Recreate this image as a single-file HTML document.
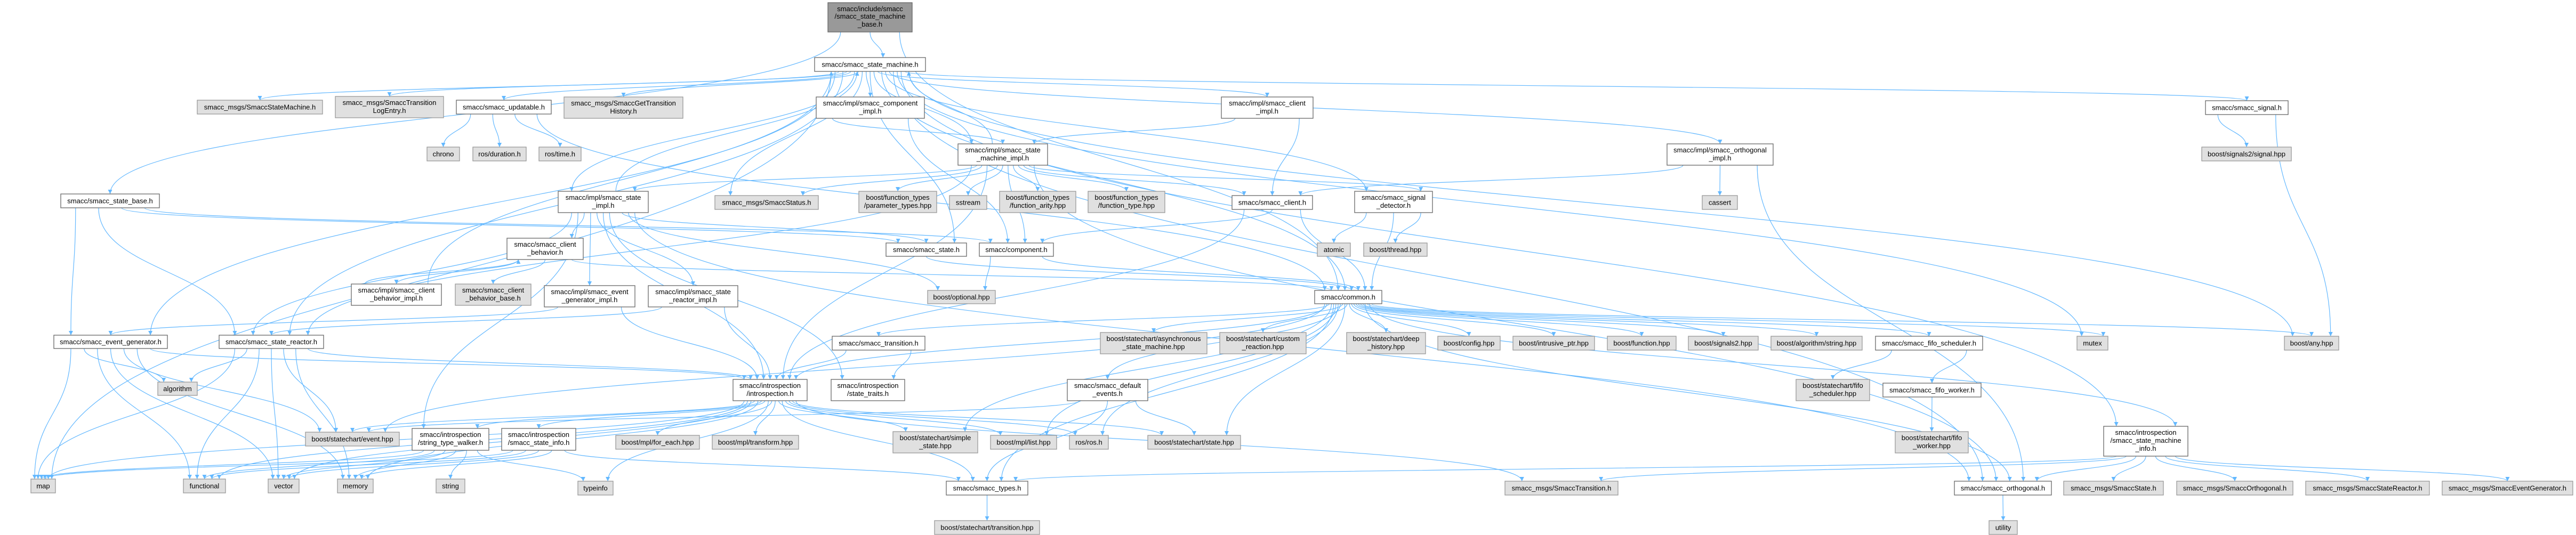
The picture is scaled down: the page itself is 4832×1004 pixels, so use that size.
<!DOCTYPE html>
<html><head><meta charset="utf-8">
<style>
html,body{margin:0;padding:0;background:#fff;}
svg{display:block;}
text{font-family:"Liberation Sans",Arial,sans-serif;font-size:13px;fill:#000;text-anchor:middle;}
.w rect{fill:#fff;stroke:#666;stroke-width:1.3;}
.g rect{fill:#e0e0e0;stroke:#999;stroke-width:1.3;}
.r rect{fill:#999;stroke:#666;stroke-width:1.3;}
.e{fill:none;stroke:#63b8ff;stroke-width:1.2;}
</style></head><body>
<svg id="s" width="4832" height="1004" viewBox="0 0 4832 1004" xmlns="http://www.w3.org/2000/svg">
<defs><marker id="ah" viewBox="0 0 10 10" refX="10" refY="5" markerWidth="10" markerHeight="8" markerUnits="userSpaceOnUse" orient="auto"><path d="M0,0 L10,5 L0,10 z" fill="#63b8ff"/></marker></defs>
<g id="edges"></g>
<g id="nodes">
<g id="base" class="r"><rect x="1553" y="5" width="158" height="55"/><text x="1632" y="21">smacc/include/smacc</text><text x="1632" y="35">/smacc_state_machine</text><text x="1632" y="50">_base.h</text></g>
<g id="sm" class="w"><rect x="1528" y="108" width="208" height="26"/><text x="1632" y="125.5">smacc/smacc_state_machine.h</text></g>
<g id="SSM" class="g"><rect x="370" y="188" width="235" height="26"/><text x="487.5" y="205.5">smacc_msgs/SmaccStateMachine.h</text></g>
<g id="STLE" class="g"><rect x="629" y="181" width="203" height="40"/><text x="730.5" y="197">smacc_msgs/SmaccTransition</text><text x="730.5" y="212">LogEntry.h</text></g>
<g id="upd" class="w"><rect x="856" y="188" width="178" height="26"/><text x="945" y="205.5">smacc/smacc_updatable.h</text></g>
<g id="SGTH" class="g"><rect x="1058" y="182" width="223" height="40"/><text x="1169.5" y="198">smacc_msgs/SmaccGetTransition</text><text x="1169.5" y="213">History.h</text></g>
<g id="compimpl" class="w"><rect x="1531" y="182" width="203" height="40"/><text x="1632.5" y="198">smacc/impl/smacc_component</text><text x="1632.5" y="213">_impl.h</text></g>
<g id="clientimpl" class="w"><rect x="2291" y="182" width="172" height="40"/><text x="2377" y="198">smacc/impl/smacc_client</text><text x="2377" y="213">_impl.h</text></g>
<g id="orthimpl" class="w"><rect x="3127" y="270" width="199" height="40"/><text x="3226.5" y="286">smacc/impl/smacc_orthogonal</text><text x="3226.5" y="301">_impl.h</text></g>
<g id="signal" class="w"><rect x="4137" y="189" width="155" height="26"/><text x="4214.5" y="206.5">smacc/smacc_signal.h</text></g>
<g id="chrono" class="g"><rect x="801" y="276" width="61" height="26"/><text x="831.5" y="293.5">chrono</text></g>
<g id="dur" class="g"><rect x="887" y="276" width="100" height="26"/><text x="937" y="293.5">ros/duration.h</text></g>
<g id="time" class="g"><rect x="1011" y="276" width="79" height="26"/><text x="1050.5" y="293.5">ros/time.h</text></g>
<g id="smimpl" class="w"><rect x="1797" y="270" width="168" height="40"/><text x="1881" y="286">smacc/impl/smacc_state</text><text x="1881" y="301">_machine_impl.h</text></g>
<g id="sighpp" class="g"><rect x="4130" y="276" width="168" height="26"/><text x="4214" y="293.5">boost/signals2/signal.hpp</text></g>
<g id="statebase" class="w"><rect x="114" y="364" width="185" height="26"/><text x="206.5" y="381.5">smacc/smacc_state_base.h</text></g>
<g id="stateimpl" class="w"><rect x="1047" y="359" width="169" height="40"/><text x="1131.5" y="375">smacc/impl/smacc_state</text><text x="1131.5" y="390">_impl.h</text></g>
<g id="status" class="g"><rect x="1341" y="367" width="194" height="26"/><text x="1438" y="384.5">smacc_msgs/SmaccStatus.h</text></g>
<g id="paramtypes" class="g"><rect x="1611" y="359" width="146" height="40"/><text x="1684" y="375">boost/function_types</text><text x="1684" y="390">/parameter_types.hpp</text></g>
<g id="sstream" class="g"><rect x="1781" y="367" width="70" height="26"/><text x="1816" y="384.5">sstream</text></g>
<g id="arity" class="g"><rect x="1875" y="359" width="143" height="40"/><text x="1946.5" y="375">boost/function_types</text><text x="1946.5" y="390">/function_arity.hpp</text></g>
<g id="ftype" class="g"><rect x="2041" y="359" width="144" height="40"/><text x="2113" y="375">boost/function_types</text><text x="2113" y="390">/function_type.hpp</text></g>
<g id="client" class="w"><rect x="2311" y="367" width="151" height="26"/><text x="2386.5" y="384.5">smacc/smacc_client.h</text></g>
<g id="sigdet" class="w"><rect x="2541" y="359" width="146" height="40"/><text x="2614" y="375">smacc/smacc_signal</text><text x="2614" y="390">_detector.h</text></g>
<g id="cassert" class="g"><rect x="3193" y="367" width="66" height="26"/><text x="3226" y="384.5">cassert</text></g>
<g id="cb" class="w"><rect x="951" y="447" width="143" height="40"/><text x="1022.5" y="463">smacc/smacc_client</text><text x="1022.5" y="478">_behavior.h</text></g>
<g id="state" class="w"><rect x="1662" y="456" width="151" height="25"/><text x="1737.5" y="473">smacc/smacc_state.h</text></g>
<g id="component" class="w"><rect x="1837" y="456" width="139" height="25"/><text x="1906.5" y="473">smacc/component.h</text></g>
<g id="atomic" class="g"><rect x="2471" y="456" width="62" height="25"/><text x="2502" y="473">atomic</text></g>
<g id="thread" class="g"><rect x="2558" y="456" width="119" height="25"/><text x="2617.5" y="473">boost/thread.hpp</text></g>
<g id="cbimpl" class="w"><rect x="659" y="533" width="169" height="40"/><text x="743.5" y="549">smacc/impl/smacc_client</text><text x="743.5" y="564">_behavior_impl.h</text></g>
<g id="cbbase" class="g"><rect x="854" y="533" width="142" height="40"/><text x="925" y="549">smacc/smacc_client</text><text x="925" y="564">_behavior_base.h</text></g>
<g id="egimpl" class="w"><rect x="1021" y="536" width="170" height="40"/><text x="1106" y="552">smacc/impl/smacc_event</text><text x="1106" y="567">_generator_impl.h</text></g>
<g id="srimpl" class="w"><rect x="1216" y="536" width="168" height="40"/><text x="1300" y="552">smacc/impl/smacc_state</text><text x="1300" y="567">_reactor_impl.h</text></g>
<g id="optional" class="g"><rect x="1740" y="545" width="127" height="25"/><text x="1803.5" y="562">boost/optional.hpp</text></g>
<g id="common" class="w"><rect x="2466" y="545" width="126" height="25"/><text x="2529" y="562">smacc/common.h</text></g>
<g id="eg" class="w"><rect x="101" y="629" width="213" height="25"/><text x="207.5" y="646">smacc/smacc_event_generator.h</text></g>
<g id="sr" class="w"><rect x="411" y="629" width="196" height="25"/><text x="509" y="646">smacc/smacc_state_reactor.h</text></g>
<g id="transition" class="w"><rect x="1561" y="631" width="174" height="26"/><text x="1648" y="648.5">smacc/smacc_transition.h</text></g>
<g id="async" class="g"><rect x="2064" y="624" width="200" height="40"/><text x="2164" y="640">boost/statechart/asynchronous</text><text x="2164" y="655">_state_machine.hpp</text></g>
<g id="custom" class="g"><rect x="2288" y="624" width="162" height="40"/><text x="2369" y="640">boost/statechart/custom</text><text x="2369" y="655">_reaction.hpp</text></g>
<g id="deep" class="g"><rect x="2526" y="624" width="148" height="40"/><text x="2600" y="640">boost/statechart/deep</text><text x="2600" y="655">_history.hpp</text></g>
<g id="config" class="g"><rect x="2697" y="631" width="117" height="26"/><text x="2755.5" y="648.5">boost/config.hpp</text></g>
<g id="intr" class="g"><rect x="2838" y="631" width="153" height="26"/><text x="2914.5" y="648.5">boost/intrusive_ptr.hpp</text></g>
<g id="func" class="g"><rect x="3015" y="631" width="129" height="26"/><text x="3079.5" y="648.5">boost/function.hpp</text></g>
<g id="sig2" class="g"><rect x="3167" y="631" width="131" height="26"/><text x="3232.5" y="648.5">boost/signals2.hpp</text></g>
<g id="algstr" class="g"><rect x="3322" y="631" width="171" height="26"/><text x="3407.5" y="648.5">boost/algorithm/string.hpp</text></g>
<g id="fifosch" class="w"><rect x="3518" y="631" width="201" height="26"/><text x="3618.5" y="648.5">smacc/smacc_fifo_scheduler.h</text></g>
<g id="mutex" class="g"><rect x="3896" y="631" width="58" height="26"/><text x="3925" y="648.5">mutex</text></g>
<g id="any" class="g"><rect x="4285" y="631" width="102" height="26"/><text x="4336" y="648.5">boost/any.hpp</text></g>
<g id="algorithm" class="g"><rect x="296" y="717" width="74" height="25"/><text x="333" y="734">algorithm</text></g>
<g id="defev" class="w"><rect x="2002" y="712" width="151" height="40"/><text x="2077.5" y="728">smacc/smacc_default</text><text x="2077.5" y="743">_events.h</text></g>
<g id="intro" class="w"><rect x="1375" y="712" width="139" height="40"/><text x="1444.5" y="728">smacc/introspection</text><text x="1444.5" y="743">/introspection.h</text></g>
<g id="traits" class="w"><rect x="1559" y="712" width="138" height="40"/><text x="1628" y="728">smacc/introspection</text><text x="1628" y="743">/state_traits.h</text></g>
<g id="fifoschhpp" class="g"><rect x="3369" y="712" width="138" height="40"/><text x="3438" y="728">boost/statechart/fifo</text><text x="3438" y="743">_scheduler.hpp</text></g>
<g id="fifow" class="w"><rect x="3532" y="719" width="184" height="26"/><text x="3624" y="736.5">smacc/smacc_fifo_worker.h</text></g>
<g id="event" class="g"><rect x="573" y="811" width="176" height="26"/><text x="661" y="828.5">boost/statechart/event.hpp</text></g>
<g id="stw" class="w"><rect x="773" y="804" width="144" height="41"/><text x="845" y="820">smacc/introspection</text><text x="845" y="835">/string_type_walker.h</text></g>
<g id="sinfo" class="w"><rect x="941" y="804" width="139" height="41"/><text x="1010.5" y="820">smacc/introspection</text><text x="1010.5" y="835">/smacc_state_info.h</text></g>
<g id="foreach" class="g"><rect x="1155" y="817" width="157" height="26"/><text x="1233.5" y="834.5">boost/mpl/for_each.hpp</text></g>
<g id="transform" class="g"><rect x="1336" y="817" width="162" height="26"/><text x="1417" y="834.5">boost/mpl/transform.hpp</text></g>
<g id="simple" class="g"><rect x="1675" y="810" width="159" height="40"/><text x="1754.5" y="826">boost/statechart/simple</text><text x="1754.5" y="841">_state.hpp</text></g>
<g id="list" class="g"><rect x="1858" y="817" width="124" height="26"/><text x="1920" y="834.5">boost/mpl/list.hpp</text></g>
<g id="ros" class="g"><rect x="2006" y="817" width="73" height="26"/><text x="2042.5" y="834.5">ros/ros.h</text></g>
<g id="statehpp" class="g"><rect x="2153" y="817" width="174" height="26"/><text x="2240" y="834.5">boost/statechart/state.hpp</text></g>
<g id="fifowhpp" class="g"><rect x="3555" y="810" width="137" height="40"/><text x="3623.5" y="826">boost/statechart/fifo</text><text x="3623.5" y="841">_worker.hpp</text></g>
<g id="sminfo" class="w"><rect x="3946" y="800" width="158" height="56"/><text x="4025" y="816">smacc/introspection</text><text x="4025" y="831">/smacc_state_machine</text><text x="4025" y="846">_info.h</text></g>
<g id="map" class="g"><rect x="58" y="899" width="46" height="26"/><text x="81" y="916.5">map</text></g>
<g id="functional" class="g"><rect x="344" y="899" width="79" height="26"/><text x="383.5" y="916.5">functional</text></g>
<g id="vector" class="g"><rect x="503" y="899" width="58" height="26"/><text x="532" y="916.5">vector</text></g>
<g id="memory" class="g"><rect x="633" y="899" width="67" height="26"/><text x="666.5" y="916.5">memory</text></g>
<g id="string" class="g"><rect x="818" y="899" width="54" height="26"/><text x="845" y="916.5">string</text></g>
<g id="typeinfo" class="g"><rect x="1084" y="903" width="66" height="26"/><text x="1117" y="920.5">typeinfo</text></g>
<g id="types" class="w"><rect x="1775" y="903" width="153" height="26"/><text x="1851.5" y="920.5">smacc/smacc_types.h</text></g>
<g id="STr" class="g"><rect x="2823" y="903" width="212" height="26"/><text x="2929" y="920.5">smacc_msgs/SmaccTransition.h</text></g>
<g id="orth" class="w"><rect x="3666" y="903" width="182" height="26"/><text x="3757" y="920.5">smacc/smacc_orthogonal.h</text></g>
<g id="SState" class="g"><rect x="3871" y="903" width="187" height="26"/><text x="3964.5" y="920.5">smacc_msgs/SmaccState.h</text></g>
<g id="SOrth" class="g"><rect x="4083" y="903" width="218" height="26"/><text x="4192" y="920.5">smacc_msgs/SmaccOrthogonal.h</text></g>
<g id="SSR" class="g"><rect x="4325" y="903" width="232" height="26"/><text x="4441" y="920.5">smacc_msgs/SmaccStateReactor.h</text></g>
<g id="SEG" class="g"><rect x="4581" y="903" width="245" height="26"/><text x="4703.5" y="920.5">smacc_msgs/SmaccEventGenerator.h</text></g>
<g id="trhpp" class="g"><rect x="1753" y="977" width="197" height="26"/><text x="1851.5" y="994.5">boost/statechart/transition.hpp</text></g>
<g id="utility" class="g"><rect x="3731" y="977" width="53" height="26"/><text x="3757.5" y="994.5">utility</text></g>
</g>
</svg>
<script>
(function(){
var E=[
["base","sm"],["base","statebase"],["base","common"],
["sm","SSM"],["sm","STLE"],["sm","upd"],["sm","SGTH"],["sm","compimpl"],["sm","clientimpl"],["sm","orthimpl"],["sm","signal"],["sm","smimpl"],["sm","stateimpl"],["sm","status"],["sm","sr"],["sm","map"],["sm","mutex"],["sm","any"],["sm","sminfo"],["sm","common"],["sm","state"],["sm","sigdet"],["sm","eg"],["sm","orth"],
["compimpl","smimpl"],["compimpl","component"],
["clientimpl","smimpl"],["clientimpl","client"],
["smimpl","sm"],["smimpl","status"],["smimpl","paramtypes"],["smimpl","sstream"],["smimpl","arity"],["smimpl","ftype"],["smimpl","client"],["smimpl","sigdet"],["smimpl","sr"],["smimpl","intro"],["smimpl","orth"],["smimpl","component"],["smimpl","stateimpl"],
["stateimpl","sm"],["stateimpl","cb"],["stateimpl","egimpl"],["stateimpl","srimpl"],["stateimpl","state"],["stateimpl","traits"],["stateimpl","intro"],["stateimpl","orth"],["stateimpl","sr"],["stateimpl","stw"],["stateimpl","optional"],
["cb","cbimpl"],["cb","cbbase"],["cb","common"],["cbimpl","cb"],["cbimpl","sm"],
["egimpl","eg"],["egimpl","intro"],["srimpl","sr"],["srimpl","intro"],
["statebase","state"],["statebase","sr"],["statebase","eg"],["statebase","component"],
["upd","chrono"],["upd","dur"],["upd","time"],["upd","common"],
["client","common"],["client","component"],["client","intro"],
["sigdet","atomic"],["sigdet","thread"],["sigdet","common"],
["orthimpl","client"],["orthimpl","orth"],["orthimpl","cassert"],
["component","optional"],["component","common"],["state","common"],
["common","async"],["common","custom"],["common","deep"],["common","config"],["common","intr"],["common","func"],["common","sig2"],["common","algstr"],["common","fifosch"],["common","mutex"],["common","any"],["common","defev"],["common","transition"],["common","intro"],["common","simple"],["common","list"],["common","ros"],["common","statehpp"],["common","event"],["common","types"],["common","orth"],["common","sminfo"],
["transition","intro"],["transition","traits"],
["intro","foreach"],["intro","transform"],["intro","simple"],["intro","list"],["intro","ros"],["intro","statehpp"],["intro","event"],["intro","typeinfo"],["intro","types"],["intro","STr"],["intro","sinfo"],["intro","stw"],["intro","vector"],["intro","memory"],["intro","map"],["intro","functional"],
["defev","statehpp"],["defev","types"],["defev","event"],
["eg","algorithm"],["eg","map"],["eg","functional"],["eg","vector"],["eg","memory"],["eg","event"],["eg","intro"],
["sr","algorithm"],["sr","map"],["sr","functional"],["sr","vector"],["sr","memory"],["sr","event"],["sr","intro"],
["stw","map"],["stw","functional"],["stw","vector"],["stw","memory"],["stw","string"],["stw","typeinfo"],
["sinfo","vector"],["sinfo","memory"],["sinfo","map"],["sinfo","functional"],["sinfo","types"],
["fifosch","fifoschhpp"],["fifosch","fifow"],["fifow","fifowhpp"],
["sminfo","orth"],["sminfo","SState"],["sminfo","SOrth"],["sminfo","SSR"],["sminfo","SEG"],["sminfo","STr"],["sminfo","types"],
["orth","utility"],["types","trhpp"],["signal","sighpp"],["signal","any"]
];
var N={};
document.querySelectorAll('#nodes > g').forEach(function(g){var r=g.querySelector('rect');var x=+r.getAttribute('x'),y=+r.getAttribute('y'),w=+r.getAttribute('width'),h=+r.getAttribute('height');N[g.id]={x1:x,x2:x+w,y1:y,y2:y+h,cx:x+w/2,cy:y+h/2,w:w,out:[],inn:[]};});
E.forEach(function(e){N[e[0]].out.push(e);N[e[1]].inn.push(e);});
function off(n,list,key,e){var l=list.slice().sort(function(a,b){return N[a[key]].cx-N[b[key]].cx;});var i=l.indexOf(e),k=l.length;if(k<2)return 0;return (i/(k-1)-0.5)*n.w*0.7;}
var s='';
E.forEach(function(e){var a=N[e[0]],b=N[e[1]];var sx=a.cx+off(a,a.out,1,e),tx=b.cx+off(b,b.inn,0,e);var sy,ty,d;
if(b.y1>=a.y2+5){sy=a.y2;ty=b.y1;var m=(ty-sy)*0.5;d='M'+sx+','+sy+' C'+sx+','+(sy+m)+' '+tx+','+(ty-m)+' '+tx+','+ty;}
else if(b.y2<=a.y1-5){sy=a.y1;ty=b.y2;var m2=(sy-ty)*0.5;d='M'+sx+','+sy+' C'+sx+','+(sy-m2)+' '+tx+','+(ty+m2)+' '+tx+','+ty;}
else{sy=a.cy;ty=b.cy;if(b.cx>a.cx){sx=a.x2;tx=b.x1;}else{sx=a.x1;tx=b.x2;}var mx=(sx+tx)/2;d='M'+sx+','+sy+' C'+mx+','+sy+' '+mx+','+ty+' '+tx+','+ty;}
s+='<path class="e" d="'+d+'" marker-end="url(#ah)"/>';});
document.getElementById('edges').innerHTML=s;
})();
</script>
</body></html>
